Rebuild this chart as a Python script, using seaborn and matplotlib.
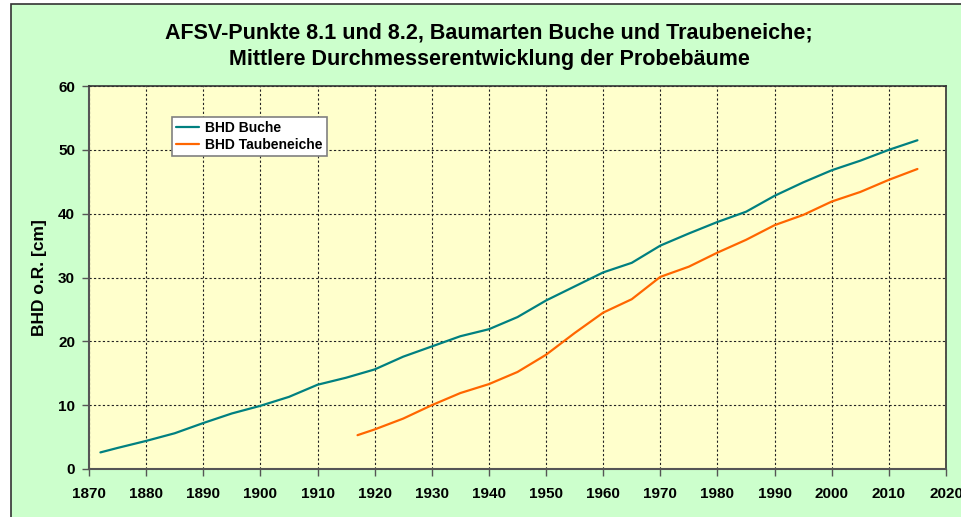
import matplotlib
matplotlib.use("Agg")
import matplotlib.pyplot as plt
from matplotlib.patches import Rectangle
import seaborn as sns
import pandas as pd

# Mittlerer BHD der Probebaeume
years_buche = [1872, 1875, 1880, 1885, 1890, 1895, 1900, 1905, 1910, 1915,
               1920, 1925, 1930, 1935, 1940, 1945, 1950, 1955, 1960, 1965,
               1970, 1975, 1980, 1985, 1990, 1995, 2000, 2005, 2010, 2015]
bhd_buche = [2.6, 3.3, 4.4, 5.6, 7.2, 8.7, 9.9, 11.3, 13.2, 14.3,
             15.6, 17.6, 19.2, 20.8, 21.9, 23.8, 26.4, 28.6, 30.8, 32.3,
             35.0, 36.9, 38.7, 40.3, 42.8, 44.9, 46.8, 48.3, 50.0, 51.5]

years_eiche = [1917, 1920, 1925, 1930, 1935, 1940, 1945, 1950, 1955, 1960,
               1965, 1970, 1975, 1980, 1985, 1990, 1995, 2000, 2005, 2010, 2015]
bhd_eiche = [5.3, 6.2, 7.9, 10.0, 11.9, 13.3, 15.2, 17.9, 21.3, 24.5,
             26.6, 30.1, 31.7, 33.9, 35.9, 38.2, 39.8, 41.9, 43.4, 45.3, 47.0]

x_ticks = list(range(1870, 2021, 10))
y_ticks = list(range(0, 61, 10))

df_buche = pd.DataFrame({"Jahr": years_buche, "BHD": bhd_buche})
df_eiche = pd.DataFrame({"Jahr": years_eiche, "BHD": bhd_eiche})

sns.set_theme(style="white")
plt.rcParams["font.family"] = ["Liberation Sans", "DejaVu Sans"]

fig = plt.figure(figsize=(9.61, 5.17), dpi=100)
fig.patch.set_facecolor("white")
# green chart area with dark frame (cut off at right/bottom)
bg = Rectangle((11 / 961, -0.01), 1.0, 1 - 4 / 517 + 0.01,
               transform=fig.transFigure, facecolor="#CCFFCC",
               edgecolor="#333333", linewidth=1.2, zorder=-1)
fig.patches.append(bg)

ax = fig.add_axes([89 / 961, 1 - 469 / 517, 857 / 961, 383 / 517])
ax.set_facecolor("#FFFFCC")

sns.lineplot(data=df_buche, x="Jahr", y="BHD", ax=ax, color="#008080",
             linewidth=1.6, label="BHD Buche")
sns.lineplot(data=df_eiche, x="Jahr", y="BHD", ax=ax, color="#FF6600",
             linewidth=1.6, label="BHD Taubeneiche")

ax.set_xlim(1870, 2020)
ax.set_ylim(0, 60)
ax.set_xticks(x_ticks)
ax.set_yticks(y_ticks)
ax.grid(True, color="#222222", linestyle=(0, (2, 2)), linewidth=0.8)
ax.set_axisbelow(True)

for s in ["top", "right"]:
    ax.spines[s].set_color("#333333")
    ax.spines[s].set_linewidth(1.2)
for s in ["left", "bottom"]:
    ax.spines[s].set_color("#555555")
    ax.spines[s].set_linewidth(1.5)

ax.tick_params(axis="both", which="both", direction="out", length=5, width=1,
               color="#555555", labelsize=11, labelcolor="black")
ax.tick_params(axis="x", pad=8, bottom=True)
ax.tick_params(axis="y", pad=5, left=True)
for lbl in ax.get_xticklabels() + ax.get_yticklabels():
    lbl.set_fontweight("bold")

ax.set_xlabel("")
ax.set_ylabel("BHD o.R. [cm]", fontsize=12.5, fontweight="bold", labelpad=8,
              color="black")

leg = ax.legend(loc="upper left", bbox_to_anchor=(0.097, 0.92), frameon=True,
                fancybox=False, shadow=False, borderpad=0.3, handlelength=1.6,
                handletextpad=0.5, labelspacing=0.2, borderaxespad=0,
                prop={"size": 10, "weight": "bold"})
leg.get_frame().set_facecolor("white")
leg.get_frame().set_edgecolor("#808080")
leg.get_frame().set_linewidth(1.2)
leg.get_frame().set_alpha(1)
for t in leg.get_texts():
    t.set_color("black")

fig.text(489 / 961, 1 - 33 / 517,
         "AFSV-Punkte 8.1 und 8.2, Baumarten Buche und Traubeneiche;",
         ha="center", va="center", fontsize=15.5, fontweight="bold",
         color="black")
fig.text(489 / 961, 1 - 60 / 517,
         "Mittlere Durchmesserentwicklung der Probebäume",
         ha="center", va="center", fontsize=15.5, fontweight="bold",
         color="black")

fig.savefig("out.png", dpi=100, facecolor=fig.get_facecolor())
